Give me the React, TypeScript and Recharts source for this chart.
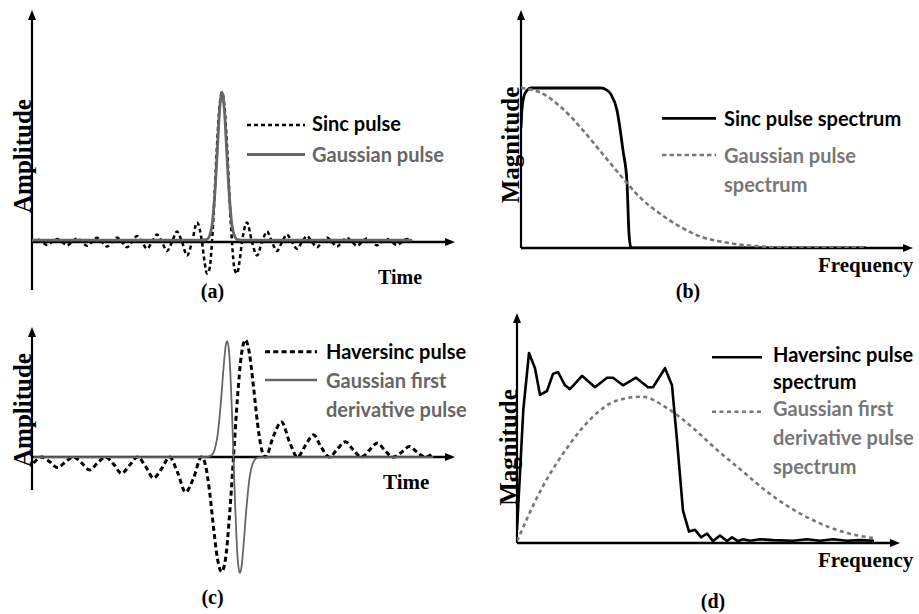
import { LineChart, Line, XAxis, YAxis, ReferenceLine, Legend } from 'recharts'

// ── (a) sinc pulse vs gaussian pulse (time) ─────────────────────────────────
const SINC_T = [
  -19, -18.5, -18, -17.5, -17, -16.5, -16, -15.5, -15, -14.5, -14, -13.5, -13, -12.5, -12, -11.5, -11, -10.5,
  -10, -9.5, -9, -8.5, -8, -7.5, -7, -6.5, -6, -5.5, -5, -4.5, -4, -3.5, -3, -2.5, -2, -1.75, -1.5, -1.25, -1,
  -0.75, -0.5, -0.25, 0, 0.25, 0.5, 0.75, 1, 1.25, 1.5, 1.75, 2, 2.5, 3, 3.5, 4, 4.5, 5, 5.5, 6, 6.5, 7, 7.5,
  8, 8.5, 9, 9.5, 10, 10.5, 11, 11.5, 12, 12.5, 13, 13.5, 14, 14.5, 15, 15.5, 16, 16.5, 17, 17.5, 18, 18.5, 19,
]
const SINC_AMP = [
  0, 0.02, 0, -0.02, 0, 0.02, 0, -0.022, 0, 0.025, 0, -0.025, 0, 0.028, 0, -0.03, 0, 0.03,
  0, -0.035, 0, 0.04, 0, -0.045, 0, 0.05, 0, -0.06, 0, 0.07, 0, -0.09, 0, 0.13, 0, -0.13, -0.21, -0.18, 0,
  0.3, 0.64, 0.9, 1, 0.9, 0.64, 0.3, 0, -0.18, -0.21, -0.13, 0, 0.13, 0, -0.09, 0, 0.07, 0, -0.06, 0, 0.05, 0, -0.045,
  0, 0.04, 0, -0.035, 0, 0.03, 0, -0.03, 0, 0.028, 0, -0.025, 0, 0.025, 0, -0.022, 0, 0.02, 0, -0.02, 0, 0.02, 0,
]
const GAUSS_T = [-19, -2, -1.5, -1.25, -1, -0.75, -0.5, -0.25, 0, 0.25, 0.5, 0.75, 1, 1.25, 1.5, 2, 19]
const GAUSS_AMP = [0.012, 0.012, 0.018, 0.04, 0.11, 0.29, 0.57, 0.87, 1, 0.87, 0.57, 0.29, 0.11, 0.04, 0.018, 0.012, 0.012]

// ── (b) spectra of (a) ───────────────────────────────────────────────────────
const SINC_SPEC_F = [0, 0.01, 0.03, 0.06, 0.1, 0.3, 0.5, 0.7, 0.8, 0.85, 0.9, 0.96, 1.02, 1.06, 1.08, 1.1, 2, 3, 3.45]
const SINC_SPEC_MAG = [0.75, 0.87, 0.95, 0.985, 1, 1, 1, 1, 1, 0.99, 0.96, 0.86, 0.61, 0.41, 0.09, 0, 0, 0, 0]
const GAUSS_SPEC_F = [0, 0.2, 0.4, 0.6, 0.8, 1, 1.2, 1.4, 1.6, 1.8, 2, 2.2, 2.4, 2.7, 3, 3.45]
const GAUSS_SPEC_MAG = [1, 0.97, 0.88, 0.75, 0.6, 0.45, 0.31, 0.21, 0.13, 0.07, 0.04, 0.02, 0.01, 0, 0, 0]

// ── (c) haversinc vs gaussian first derivative (time) ────────────────────────
const HAV_T = [
  -12.5, -12, -11.5, -11, -10.5, -10, -9.5, -9, -8.5, -8, -7.5, -7, -6.5, -6, -5.5, -5, -4.5, -4, -3.5, -3, -2.5, -2,
  -1.75, -1.5, -1.25, -1, -0.75, -0.5, -0.25, 0, 0.25, 0.5, 0.75, 1, 1.25, 1.5, 1.75,
  2, 2.5, 3, 3.5, 4, 4.5, 5, 5.5, 6, 6.5, 7, 7.5, 8, 8.5, 9, 9.5, 10, 10.5, 11, 11.5, 12, 12.5,
]
const HAV_AMP = [
  -0.05, 0, -0.04, -0.09, -0.04, 0, -0.05, -0.11, -0.05, 0, -0.06, -0.14, -0.07, 0, -0.08, -0.18, -0.1, 0, -0.13, -0.3, -0.18, 0,
  -0.07, -0.29, -0.6, -0.87, -0.98, -0.87, -0.5, 0, 0.51, 0.88, 1, 0.88, 0.6, 0.29, 0.07,
  0, 0.18, 0.3, 0.13, 0, 0.1, 0.19, 0.08, 0, 0.07, 0.13, 0.06, 0, 0.06, 0.12, 0.05, 0, 0.04, 0.09, 0.04, 0, 0.04,
]
const DGAUSS_T = [-12.5, -2, -1.6, -1.4, -1.2, -1, -0.8, -0.6, -0.5, -0.4, -0.3, -0.2, -0.1, 0, 0.1, 0.2, 0.3, 0.4, 0.5, 0.6, 0.8, 1, 1.2, 1.4, 1.6, 2, 12.5]
const DGAUSS_AMP = [0, 0, 0.002, 0.013, 0.055, 0.18, 0.45, 0.8, 0.94, 0.99, 0.93, 0.73, 0.4, 0, -0.4, -0.73, -0.93, -0.99, -0.94, -0.8, -0.45, -0.18, -0.055, -0.013, -0.002, 0, 0]

// ── (d) spectra of (c) ───────────────────────────────────────────────────────
const HAV_SPEC_F = [
  0, 0.063, 0.12, 0.18, 0.23, 0.3, 0.36, 0.41, 0.48, 0.53, 0.65, 0.78, 0.9, 0.96, 1.06, 1.19, 1.31, 1.36, 1.48, 1.55,
  1.6, 1.66, 1.72, 1.78, 1.84, 1.9, 1.96, 2.03, 2.1, 2.15, 2.21, 2.26, 2.33, 2.43, 2.56, 2.76, 2.9, 3.03, 3.16, 3.3, 3.43, 3.57,
]
const HAV_SPEC_MAG = [
  0.07, 0.7, 1, 0.92, 0.78, 0.8, 0.89, 0.9, 0.83, 0.81, 0.88, 0.82, 0.87, 0.87, 0.83, 0.87, 0.82, 0.82, 0.92, 0.83,
  0.54, 0.17, 0.06, 0.07, 0.03, 0.05, 0.01, 0.04, 0.01, 0.03, 0.01, 0.02, 0.012, 0.02, 0.015, 0.012, 0.02, 0.012, 0.02, 0.012, 0.015, 0.012,
]
const DG_SPEC_F = [0, 0.25, 0.5, 0.75, 1, 1.25, 1.5, 1.75, 2, 2.25, 2.5, 2.75, 3, 3.25, 3.57]
const DG_SPEC_MAG = [0.01, 0.29, 0.5, 0.66, 0.75, 0.77, 0.71, 0.61, 0.49, 0.38, 0.27, 0.18, 0.11, 0.06, 0.025]

type Pt = { x: number; y: number }
const zip = (xs: number[], ys: number[]): Pt[] => xs.map((x, i) => ({ x, y: ys[i] }))

const BLACK = '#000000'
const GRAY = '#666666'
const GRAY_DASH = '#777777'
const SERIF = '"Liberation Serif", "Times New Roman", serif'
const SANS = 'Lato, "Open Sans", sans-serif'

interface SeriesDef {
  name: string
  data: Pt[]
  color: string
  width: number
  dash?: string
  curve: 'monotone' | 'linear'
  markY: number
  baselines: number[]
}

interface PanelDef {
  left: number
  top: number
  width: number
  height: number
  margin: { top: number; right: number; bottom: number; left: number }
  xDomain: [number, number]
  yDomain: [number, number]
  yAxisFrom: number
  markX: [number, number]
  textX: number
  series: SeriesDef[]
}

// ── axis line with a filled arrow head at its end ───────────────────────────
function ArrowAxis(props: any) {
  const { x1, y1, x2, y2, strokeWidth = 2.5 } = props
  const dx = x2 - x1
  const dy = y2 - y1
  const len = Math.hypot(dx, dy) || 1
  const ux = dx / len
  const uy = dy / len
  const head = 10
  const half = 4
  const bx = x2 - ux * head
  const by = y2 - uy * head
  return (
    <g>
      <line x1={x1} y1={y1} x2={bx + ux} y2={by + uy} stroke={BLACK} strokeWidth={strokeWidth} />
      <polygon
        points={`${x2},${y2} ${bx - uy * half},${by + ux * half} ${bx + uy * half},${by - ux * half}`}
        fill={BLACK}
      />
    </g>
  )
}

function PanelLegend({ payload, series, markX, textX }: any) {
  return (
    <svg width={1} height={1} style={{ position: 'absolute', left: 0, top: 0, overflow: 'visible' }}>
      {(payload ?? []).map((entry: any) => {
        const row: SeriesDef | undefined = series.find((s: SeriesDef) => s.name === entry.value)
        if (!row) return null
        const p = entry.payload ?? {}
        return (
          <g key={row.name}>
            <line
              x1={markX[0]} x2={markX[1]} y1={row.markY} y2={row.markY}
              stroke={entry.color} strokeWidth={Math.max(2.5, p.strokeWidth ?? 2.5)}
              strokeDasharray={p.strokeDasharray}
            />
            <text fontFamily={SANS} fontWeight={700} fontSize={20} fill={entry.color}>
              {row.name.split('\n').map((line, i) => (
                <tspan key={i} x={textX} y={row.baselines[i]}>{line}</tspan>
              ))}
            </text>
          </g>
        )
      })}
    </svg>
  )
}

function Panel({ def }: { def: PanelDef }) {
  const [x0, x1] = def.xDomain
  return (
    <div style={{ position: 'absolute', left: def.left, top: def.top }}>
      <LineChart width={def.width} height={def.height} margin={def.margin}>
        <XAxis type="number" dataKey="x" domain={def.xDomain} hide allowDataOverflow />
        <YAxis type="number" domain={def.yDomain} hide allowDataOverflow />
        <ReferenceLine
          segment={[{ x: x0, y: 0 }, { x: x1, y: 0 }]}
          ifOverflow="visible" strokeWidth={2.6} shape={ArrowAxis}
        />
        <ReferenceLine
          segment={[{ x: x0, y: def.yAxisFrom }, { x: x0, y: def.yDomain[1] }]}
          ifOverflow="visible" strokeWidth={2.2} shape={ArrowAxis}
        />
        {def.series.map(s => (
          <Line
            key={s.name}
            name={s.name}
            data={s.data}
            dataKey="y"
            type={s.curve}
            stroke={s.color}
            strokeWidth={s.width}
            strokeDasharray={s.dash}
            strokeLinejoin="round"
            dot={false}
            activeDot={false}
            isAnimationActive={false}
          />
        ))}
        <Legend
          verticalAlign="middle"
          align="center"
          layout="horizontal"
          wrapperStyle={{ left: 0, top: 0, width: 0, height: 0 }}
          content={(props: any) => (
            <PanelLegend payload={props.payload} series={def.series} markX={def.markX} textX={def.textX} />
          )}
        />
      </LineChart>
    </div>
  )
}

const PANELS: PanelDef[] = [
  {
    left: 0, top: 0, width: 465, height: 300,
    margin: { top: 10, right: 10, bottom: 10, left: 32 },
    xDomain: [-19, 23.3], yDomain: [-0.32, 1.547], yAxisFrom: -0.32,
    markX: [247, 305], textX: 312,
    series: [
      { name: 'Sinc pulse', data: zip(SINC_T, SINC_AMP), color: BLACK, width: 2.5, dash: '4 3', curve: 'monotone', markY: 125, baselines: [131] },
      { name: 'Gaussian pulse', data: zip(GAUSS_T, GAUSS_AMP), color: GRAY, width: 2.8, curve: 'monotone', markY: 154.5, baselines: [161.5] },
    ],
  },
  {
    left: 460, top: 0, width: 459, height: 300,
    margin: { top: 10, right: 6, bottom: 52, left: 61 },
    xDomain: [0, 3.92], yDomain: [0, 1.4875], yAxisFrom: 0,
    markX: [202, 256], textX: 264,
    series: [
      { name: 'Sinc pulse spectrum', data: zip(SINC_SPEC_F, SINC_SPEC_MAG), color: BLACK, width: 2.8, curve: 'monotone', markY: 118.3, baselines: [126] },
      { name: 'Gaussian pulse\nspectrum', data: zip(GAUSS_SPEC_F, GAUSS_SPEC_MAG), color: GRAY_DASH, width: 2.6, dash: '4.5 3', curve: 'monotone', markY: 155, baselines: [162.5, 191.5] },
    ],
  },
  {
    left: 0, top: 300, width: 465, height: 300,
    margin: { top: 27, right: 10, bottom: 20, left: 32 },
    xDomain: [-12.6, 13.85], yDomain: [-1.05, 1.111], yAxisFrom: -0.282,
    markX: [265, 317], textX: 326,
    series: [
      { name: 'Haversinc pulse', data: zip(HAV_T, HAV_AMP), color: BLACK, width: 3, dash: '5 3.3', curve: 'monotone', markY: 51.7, baselines: [59.3] },
      { name: 'Gaussian first\nderivative pulse', data: zip(DGAUSS_T, DGAUSS_AMP), color: GRAY, width: 1.8, curve: 'monotone', markY: 80, baselines: [88.3, 117.3] },
    ],
  },
  {
    left: 460, top: 300, width: 459, height: 300,
    margin: { top: 13, right: 19, bottom: 57, left: 57 },
    xDomain: [0, 3.83], yDomain: [0, 1.2105], yAxisFrom: 0,
    markX: [252, 302], textX: 313,
    series: [
      { name: 'Haversinc pulse\nspectrum', data: zip(HAV_SPEC_F, HAV_SPEC_MAG), color: BLACK, width: 2.6, curve: 'linear', markY: 57.3, baselines: [61.5, 88.5] },
      { name: 'Gaussian first\nderivative pulse\nspectrum', data: zip(DG_SPEC_F, DG_SPEC_MAG), color: GRAY_DASH, width: 2.6, dash: '4 3.5', curve: 'monotone', markY: 111.7, baselines: [116, 145, 173.5] },
    ],
  },
]

function Title({ x, y, size, children, rotate, anchor = 'start' }: any) {
  return (
    <text
      x={rotate ? 0 : x}
      y={rotate ? 0 : y}
      transform={rotate ? `translate(${x},${y}) rotate(-90)` : undefined}
      textAnchor={rotate ? 'middle' : anchor}
      fontFamily={SERIF}
      fontWeight={700}
      fontSize={size}
      fill={BLACK}
    >
      {children}
    </text>
  )
}

export default function App() {
  return (
    <div style={{ position: 'absolute', left: 0, top: 0, width: 919, height: 614, background: '#ffffff', overflow: 'hidden' }}>
      {PANELS.map((p, i) => <Panel key={i} def={p} />)}
      <svg width={919} height={614} style={{ position: 'absolute', left: 0, top: 0, pointerEvents: 'none' }}>
        <Title x={31} y={156} size={25} rotate>Amplitude</Title>
        <Title x={378} y={284} size={20}>Time</Title>
        <Title x={212.5} y={298} size={20} anchor="middle">(a)</Title>

        <Title x={518.5} y={145} size={25} rotate>Magnitude</Title>
        <Title x={818} y={272} size={21}>Frequency</Title>
        <Title x={688} y={298} size={20} anchor="middle">(b)</Title>

        <Title x={31} y={410} size={25} rotate>Amplitude</Title>
        <Title x={383} y={489} size={21}>Time</Title>
        <Title x={212.5} y={604} size={20} anchor="middle">(c)</Title>

        <Title x={517} y={447.5} size={25} rotate>Magnitude</Title>
        <Title x={818} y={567} size={21}>Frequency</Title>
        <Title x={713} y={608} size={20} anchor="middle">(d)</Title>
      </svg>
    </div>
  )
}
